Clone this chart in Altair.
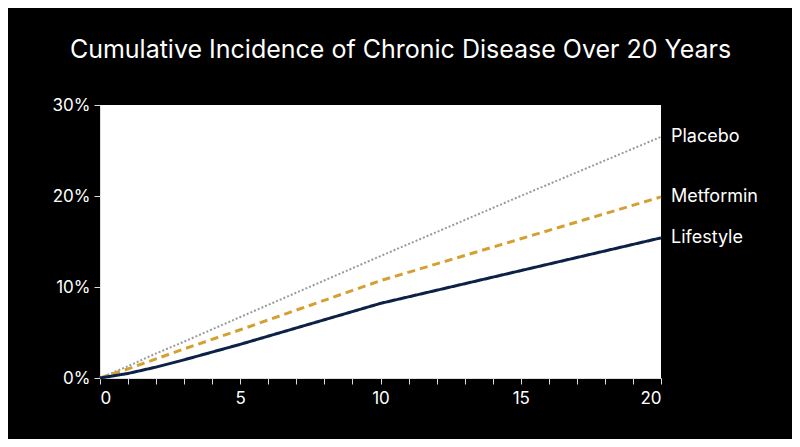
import altair as alt
import pandas as pd

years = [0, 1, 2, 3, 5, 10, 15, 20]
placebo = [0.0, 1.3, 2.7, 4.0, 6.7, 13.4, 20.0, 26.5]
metformin = [0.0, 1.0, 2.1, 3.2, 5.3, 10.7, 15.3, 19.9]
lifestyle = [0.0, 0.5, 1.2, 2.0, 3.7, 8.2, 11.8, 15.4]
series_names = ["Placebo", "Metformin", "Lifestyle"]
series_colors = ["#9a9a9a", "#d4a032", "#0d2147"]
x_ticks = list(range(0, 21))
y_ticks = [0, 0.1, 0.2, 0.3]

rows = []
for name, vals in zip(series_names, [placebo, metformin, lifestyle]):
    for yr, v in zip(years, vals):
        rows.append({"year": yr, "value": v / 100.0, "series": name})
df = pd.DataFrame(rows)

FONT = "Inter"

x_enc = alt.X("year:Q", scale=alt.Scale(domain=[0, 20], nice=False),
              axis=alt.Axis(values=x_ticks, labelExpr="datum.value % 5 == 0 ? datum.label : ''",
                            title=None, grid=False, tickSize=6, labelPadding=6,
                            domainColor="#dddddd", tickColor="#dddddd",
                            labelColor="white", labelFontSize=17, labelFont=FONT))
y_enc = alt.Y("value:Q", scale=alt.Scale(domain=[0, 0.3], nice=False),
              axis=alt.Axis(values=y_ticks, format=".0%", title=None, grid=False,
                            tickSize=6, labelPadding=4,
                            domainColor="#dddddd", tickColor="#dddddd",
                            labelColor="white", labelFontSize=17, labelFont=FONT))
color_enc = alt.Color("series:N", scale=alt.Scale(domain=series_names, range=series_colors), legend=None)

base = alt.Chart(df)

def line(name, dash, w):
    return base.transform_filter(alt.datum.series == name).mark_line(
        strokeDash=dash, strokeWidth=w, clip=False
    ).encode(x=x_enc, y=y_enc, color=color_enc)

lines = [
    line("Placebo", [2, 2], 2),
    line("Metformin", [8, 5], 3),
    line("Lifestyle", [1, 0], 3),
]

labels = base.transform_filter(alt.datum.year == 20).mark_text(
    align="left", dx=10, fontSize=18, font=FONT, color="white"
).encode(x=x_enc, y=y_enc, text="series:N")

chart = alt.layer(*lines, labels).properties(
    width=561, height=273,
    background="black",
    autosize=alt.AutoSizeParams(type="none"),
    padding={"left": 92, "top": 97, "right": 131, "bottom": 61},
    title=alt.TitleParams("Cumulative Incidence of Chronic Disease Over 20 Years",
                          color="white", font=FONT, fontSize=25, fontWeight="normal",
                          anchor="middle", dx=20, offset=33),
).configure_view(fill="white", stroke=None)

chart.save("out.html", embed_options={"renderer": "svg", "actions": False})
